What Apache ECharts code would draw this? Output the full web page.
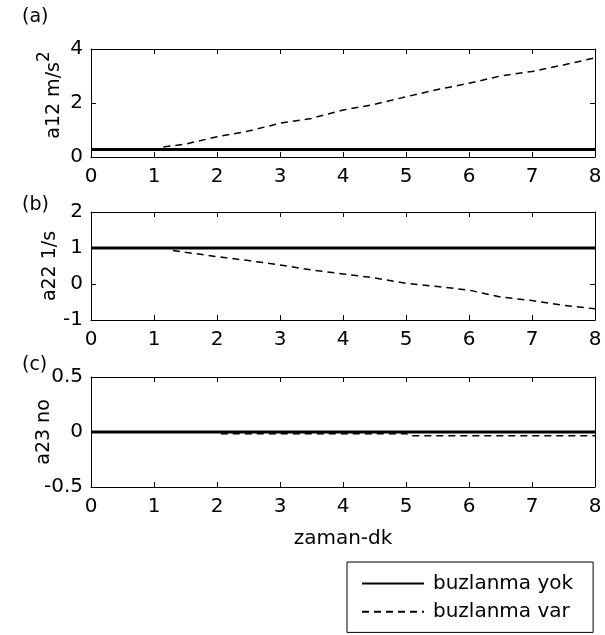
<!DOCTYPE html>
<html>
<head>
<meta charset="utf-8">
<script src="https://cdn.jsdelivr.net/npm/echarts@6/dist/echarts.min.js"></script>
<style>
  html, body { margin: 0; padding: 0; background: #fff; }
  #chart { width: 605px; height: 635px; }
</style>
</head>
<body>
<div id="chart"></div>
<script>
// zaman-dk
var timeYok = [0, 8];
var a12Yok = [0.28, 0.28];
var a22Yok = [1, 1];
var a23Yok = [0, 0];

var timeA12Var = [1.15, 1.5, 2, 2.5, 3, 3.5, 4, 4.5, 5, 5.5, 6, 6.5, 7, 7.5, 8];
var a12Var = [0.37, 0.48, 0.75, 0.96, 1.25, 1.43, 1.74, 1.95, 2.23, 2.5, 2.73, 3.0, 3.17, 3.41, 3.67];

var timeA22Var = [1.3, 1.5, 2, 2.5, 3, 3.5, 4, 4.5, 5, 5.5, 6, 6.5, 7, 7.5, 8];
var a22Var = [0.93, 0.88, 0.76, 0.65, 0.53, 0.39, 0.28, 0.17, 0.02, -0.07, -0.17, -0.36, -0.46, -0.59, -0.69];

var timeA23Var = [2.06, 5.0, 5.08, 8];
var a23Var = [-0.015, -0.015, -0.035, -0.035];

var panelTitles = ["(a)", "(b)", "(c)"];
var yNames = ["{n|a12 m/s}{s|2}", "a22 1/s", "a23 no"];
var yMin = [0, -1, -0.5];
var yMax = [4, 2, 0.5];
var yStep = [2, 1, 0.5];

var font = "DejaVu Sans";

function zip(xs, ys) {
  return xs.map(function(x, i) { return [x, ys[i]]; });
}

var chart = echarts.init(document.getElementById("chart"), null, { renderer: "canvas" });

var grids = [
  { left: 91, right: 10, top: 49, height: 108 },
  { left: 91, right: 10, top: 212, height: 108 },
  { left: 91, right: 10, top: 377, height: 110 },
];
var nameGaps = [27, 31, 37];

// each box side sits "on zero" of a hidden helper axis whose zero is at that edge
function boxLine(zeroIdx) {
  return { show: true, onZero: true, onZeroAxisIndex: zeroIdx, lineStyle: { color: "#000", width: 1 } };
}
function inTick() {
  return { show: true, inside: true, length: 5, lineStyle: { color: "#000", width: 1 } };
}
function helper(type, i, lo, hi) {
  return { type: "value", gridIndex: i, min: lo, max: hi, show: false };
}

var xAxes = [];
var yAxes = [];
grids.forEach(function(g, i) {
  var b = i * 4;
  xAxes.push({
    type: "value", gridIndex: i, min: 0, max: 8, interval: 1,
    position: "bottom",
    name: i === 2 ? "zaman-dk" : "",
    nameLocation: "middle", nameGap: 42, nameMoveOverlap: false,
    nameTextStyle: { color: "#000", fontFamily: font, fontSize: 20 },
    axisLine: boxLine(b + 2),
    axisTick: inTick(),
    axisLabel: { color: "#000", fontFamily: font, fontSize: 20, margin: 10 },
    splitLine: { show: false },
  });
  xAxes.push({
    type: "value", gridIndex: i, min: 0, max: 8, interval: 1,
    position: "top",
    axisLine: boxLine(b + 3),
    axisTick: inTick(),
    axisLabel: { show: false },
    splitLine: { show: false },
  });
  xAxes.push(helper("x", i, 0, 1));
  xAxes.push(helper("x", i, -1, 0));

  yAxes.push({
    type: "value", gridIndex: i, min: yMin[i], max: yMax[i], interval: yStep[i],
    position: "left",
    name: yNames[i],
    nameLocation: "middle", nameGap: nameGaps[i], nameMoveOverlap: false,
    nameTextStyle: {
      color: "#000", fontFamily: font, fontSize: 19,
      padding: i === 0 ? [0, 0, 0, 16] : 0,
      rich: {
        n: { fontFamily: font, fontSize: 19, lineHeight: 28, verticalAlign: "bottom" },
        s: { fontFamily: font, fontSize: 17, lineHeight: 28, verticalAlign: "top" },
      },
    },
    axisLine: boxLine(b + 2),
    axisTick: inTick(),
    axisLabel: { color: "#000", fontFamily: font, fontSize: 20, margin: 8 },
    splitLine: { show: false },
  });
  yAxes.push({
    type: "value", gridIndex: i, min: yMin[i], max: yMax[i], interval: yStep[i],
    position: "right",
    axisLine: boxLine(b + 3),
    axisTick: inTick(),
    axisLabel: { show: false },
    splitLine: { show: false },
  });
  yAxes.push(helper("y", i, 0, 1));
  yAxes.push(helper("y", i, -1, 0));
});

var yokData = [zip(timeYok, a12Yok), zip(timeYok, a22Yok), zip(timeYok, a23Yok)];
var varData = [zip(timeA12Var, a12Var), zip(timeA22Var, a22Var), zip(timeA23Var, a23Var)];

var series = [];
grids.forEach(function(g, i) {
  series.push({
    name: "buzlanma yok", type: "line",
    xAxisIndex: i * 4, yAxisIndex: i * 4,
    data: yokData[i], symbol: "none", animation: false,
    itemStyle: { color: "#000" },
    lineStyle: { color: "#000", width: 3 },
  });
  series.push({
    name: "buzlanma var", type: "line",
    xAxisIndex: i * 4, yAxisIndex: i * 4,
    data: varData[i], symbol: "none", animation: false,
    itemStyle: { color: "#000" },
    lineStyle: { color: "#000", width: 1.5, type: [7, 5] },
  });
});

var option = {
  backgroundColor: "#fff",
  title: panelTitles.map(function(t, i) {
    return {
      text: t, left: 17, top: [3, 191, 351][i],
      textStyle: { color: "#000", fontFamily: font, fontSize: 19, fontWeight: "normal" },
    };
  }),
  legend: {
    data: ["buzlanma yok", "buzlanma var"],
    orient: "vertical",
    left: 347, top: 562, height: 58,
    padding: [10, 20, 9, 14],
    itemWidth: 62, itemHeight: 29, itemGap: 5,
    itemStyle: { opacity: 0 },
    borderColor: "#000", borderWidth: 1,
    textStyle: { color: "#000", fontFamily: font, fontSize: 20, lineHeight: 18, padding: [0, 0, 0, 4] },
  },
  grid: grids,
  xAxis: xAxes,
  yAxis: yAxes,
  series: series,
};

chart.setOption(option);
</script>
</body>
</html>
